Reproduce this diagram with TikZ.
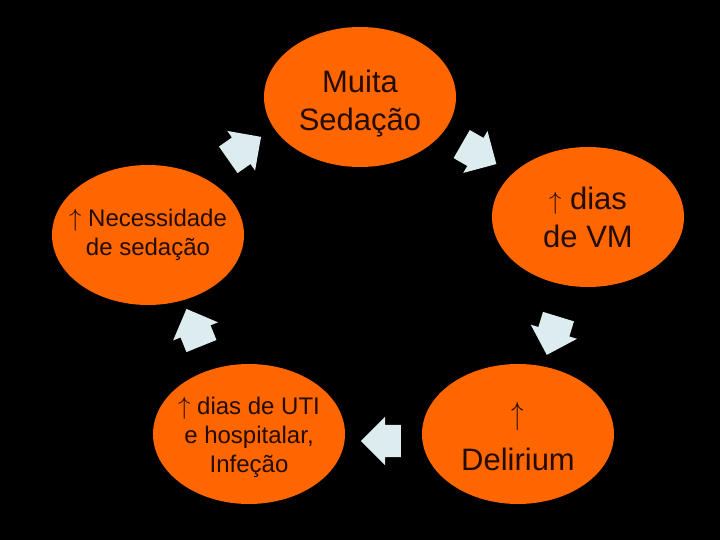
\documentclass[tikz,border=0pt]{standalone}
\usepackage{fontspec}
\setmainfont{Liberation Sans}
\usetikzlibrary{shapes.geometric,shapes.arrows}
\definecolor{laranja}{RGB}{255,102,0}
\definecolor{gelo}{RGB}{221,236,238}
\definecolor{texto}{RGB}{35,12,0}

\begin{document}
\begin{tikzpicture}[x=1pt,y=-1pt,
  bola/.style={ellipse, fill=laranja, minimum width=192pt, minimum height=140pt, inner sep=0pt},
  grande/.style={align=center, text=texto, font=\fontsize{31}{38}\selectfont},
  pequeno/.style={align=center, text=texto, font=\fontsize{24}{29}\selectfont},
  seta/.style={single arrow, fill=gelo, minimum height=40pt, inner xsep=0pt, inner ysep=16pt,
    single arrow head extend=8pt}]
\fill[black] (0,0) rectangle (720,540);
% ciclo da sedacao
\node[bola, label={[grande, yshift=-7pt]center:Muita\\Sedação}] (sed) at (360,97) {};
\node[bola, label={[grande]center:$\uparrow$ dias\\de VM}] (vm) at (588,217) {};
\node[bola, label={[grande, yshift=-2pt]center:\scalebox{1}[1.3]{$\uparrow$}\\[8pt]Delirium}] (del) at (518,434) {};
\node[bola, label={[pequeno, yshift=-3pt]center:$\uparrow$ dias de UTI\\e hospitalar,\\Infeção}] (uti) at (249,434) {};
\node[bola, label={[pequeno]center:$\uparrow$ Necessidade\\de sedação}] (nec) at (148,235) {};
% setas
\node[seta, rotate=-30] (s1) at (472,150) {};
\node[seta, rotate=-107] (s2) at (555,328) {};
\node[seta, rotate=180] (s3) at (389,441) {};
\node[seta, rotate=112] (s4) at (197,335) {};
\node[seta, rotate=35] (s5) at (238,153) {};
\end{tikzpicture}
\end{document}
